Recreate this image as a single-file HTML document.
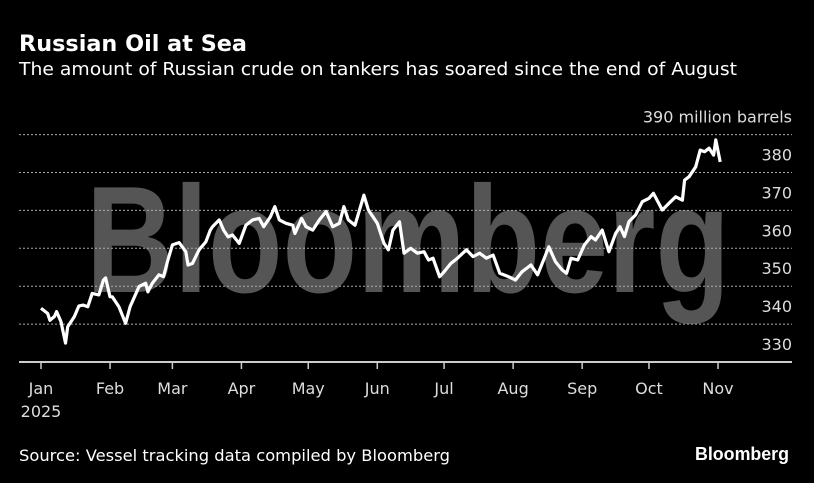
<!DOCTYPE html>
<html><head><meta charset="utf-8"><style>
html,body{margin:0;padding:0;background:#000;}
svg{display:block;font-family:"DejaVu Sans","Liberation Sans",sans-serif;}
</style></head><body>
<svg id="chart" width="814" height="483" viewBox="0 0 814 483" xmlns="http://www.w3.org/2000/svg">
<rect width="814" height="483" fill="#000"/>
<text x="19" y="51" fill="#fff" font-size="22" font-weight="bold" textLength="228" lengthAdjust="spacingAndGlyphs">Russian Oil at Sea</text>
<text x="19" y="75" fill="#fff" font-size="18" textLength="718" lengthAdjust="spacingAndGlyphs">The amount of Russian crude on tankers has soared since the end of August</text>
<text x="86" y="292" fill="#555" font-family="Liberation Sans, sans-serif" font-size="152" font-weight="bold" textLength="644" lengthAdjust="spacingAndGlyphs">Bloomberg</text>
<g id="grid"></g>
<g id="yticks"></g>
<g id="xticks"></g>
<path id="line" fill="none" stroke="#fff" stroke-width="3.2" stroke-linejoin="round"/>
<text x="19" y="461" fill="#fff" font-size="16" textLength="431" lengthAdjust="spacingAndGlyphs">Source: Vessel tracking data compiled by Bloomberg</text>
<text x="695" y="460" fill="#fff" font-family="Liberation Sans, sans-serif" font-size="18" font-weight="bold" textLength="94" lengthAdjust="spacingAndGlyphs">Bloomberg</text>
</svg>
<script>
const days=[0,3,4,6,7,9,11,12,15,17,19,21,23,26,28,29,31,32,35,38,40,42,44,47,48,50,53,55,57,59,62,65,66,68,71,74,76,77,80,82,84,86,89,92,95,98,100,103,105,107,110,113,114,117,119,122,125,128,131,134,136,138,141,145,147,151,154,156,158,161,163,166,169,172,174,176,179,181,184,187,191,194,197,200,203,206,210,213,216,220,223,226,228,231,234,236,238,241,244,247,249,252,255,258,260,262,264,267,270,273,275,277,279,282,285,288,289,291,294,296,298,300,302,303,305];
const values=[344.2,342.8,341,342,343.3,340.6,335,339.3,342,344.8,345,344.6,348.1,347.7,351.6,352.2,347.2,347.2,344.6,340.2,344.6,347.2,349.9,350.8,348.5,350.8,353,352.5,356.9,360.9,361.5,359.1,355.6,356,359.6,361.7,364.8,365.7,367.5,364.8,363,363.5,361.3,366.1,367.5,367.9,365.7,368.3,371,367.5,366.6,366.1,363.9,367.9,365.7,364.8,367.5,369.7,365.7,366.6,371,367.5,366.1,374,370.1,366.6,361.3,359.6,364.8,367,358.7,360,358.7,359.1,356.9,357.4,352.5,353.8,356,357.4,359.6,357.8,358.7,357.4,358.2,353.4,352.5,351.6,353.8,355.6,353,357.4,360.4,356.5,354.3,353.4,357.4,356.9,360.9,363.1,362.2,364.8,359.1,363.9,365.7,363.1,367,368.8,372.3,373.2,374.5,372.3,370.1,371.9,373.6,372.7,378,378.9,381.5,385.9,385.5,386.4,384.6,388.6,382.8];
const yTicks=[330,340,350,360,370,380,390];
const yLabels=["330","340","350","360","370","380","390 million barrels"];
const monthDays=[0,31,59,90,120,151,181,212,243,273,304];
const monthLabels=["Jan","Feb","Mar","Apr","May","Jun","Jul","Aug","Sep","Oct","Nov"];
const NS="http://www.w3.org/2000/svg";
const xS=d=>41+d*2.227;
const yS=v=>362-(v-330)*3.79;
function mk(tag,attrs,parent,txt){const e=document.createElementNS(NS,tag);for(const k in attrs)e.setAttribute(k,attrs[k]);if(txt!==undefined)e.textContent=txt;parent.appendChild(e);return e;}
const grid=document.getElementById('grid'),yt=document.getElementById('yticks'),xt=document.getElementById('xticks');
yTicks.forEach((v,i)=>{
  if(i>0){const l=mk('line',{x1:19,x2:792,y1:yS(v),y2:yS(v),stroke:'#aaa','stroke-width':1,'stroke-dasharray':'2,2'},grid);
  
  }
  const t=mk('text',{x:792,y:yS(v)-12,fill:'#ddd','font-size':16,'text-anchor':'end'},yt,yLabels[i]);
  
  
});
const ax=mk('line',{x1:19,x2:792,y1:yS(330),y2:yS(330),stroke:'#ccc','stroke-width':2},xt);


monthDays.forEach((d,i)=>{
  const tk=mk('line',{x1:xS(d),x2:xS(d),y1:yS(330),y2:yS(330)+7,stroke:'#ccc','stroke-width':1.5},xt);
  
  
  const t=mk('text',{x:xS(d),y:394,fill:'#ddd','font-size':16,'text-anchor':'middle'},xt,monthLabels[i]);
  
  
});
const yr=mk('text',{x:xS(0),y:417,fill:'#ddd','font-size':16,'text-anchor':'middle'},xt,'2025');


document.getElementById('line').setAttribute('d',days.map((d,i)=>(i?'L':'M')+xS(d).toFixed(1)+','+yS(values[i]).toFixed(1)).join(''));
</script>
</body></html>
